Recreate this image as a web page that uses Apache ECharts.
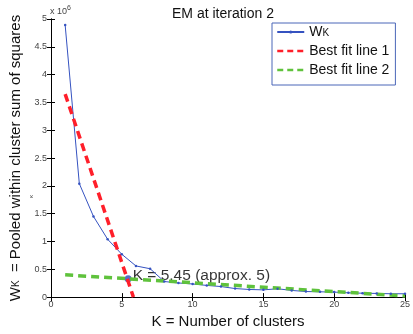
<!DOCTYPE html>
<html>
<head>
<meta charset="utf-8">
<script src="https://cdn.jsdelivr.net/npm/echarts@6/dist/echarts.min.js"></script>
<style>
  html, body { margin: 0; padding: 0; background: #fff; }
  #chart { width: 413px; height: 334px; }
</style>
</head>
<body>
<div id="chart"></div>
<script>
// number of clusters
const kValues = [1, 2, 3, 4, 5, 6, 7, 8, 9, 10, 11, 12, 13, 14, 15, 16, 17, 18, 19, 20, 21, 22, 23, 24, 25]
// Wk in units of 1e6
const wkValues = [4.89, 2.04, 1.45, 1.04, 0.77, 0.56, 0.51, 0.28, 0.254, 0.236, 0.21, 0.19, 0.154, 0.137, 0.13,
  0.15, 0.12, 0.10, 0.095, 0.09, 0.077, 0.07, 0.066, 0.06, 0.06]
// end points of the two fitted lines
const fit1 = [[1, 3.65], [5.82, 0]]
const fit2 = [[1, 0.40], [25, 0.02]]
// elbow estimate
const elbow = [5.45, 0.33]
const elbowText = 'K = 5.45 (approx. 5)'
const xTicks = {min: 0, max: 25, interval: 5}
const yTicks = {min: 0, max: 5, interval: 0.5}

const chart = echarts.init(document.getElementById('chart'))

const wkData = kValues.map((k, i) => [k, wkValues[i]])

const option = {
  animation: false,
  textStyle: {fontFamily: 'Liberation Sans, Arial, sans-serif'},
  title: {
    text: 'EM at iteration 2',
    left: 167,
    top: 2,
    textStyle: {fontSize: 14, fontWeight: 'normal', color: '#111'}
  },
  grid: {left: 51, right: 7, top: 19, bottom: 33},
  legend: {
    orient: 'vertical',
    left: 272,
    top: 23,
    padding: [2, 6, 8, 4],
    itemGap: 5,
    itemWidth: 27,
    itemHeight: 4,
    borderColor: '#4a66b8',
    borderWidth: 1,
    backgroundColor: '#fff',
    data: [
      {name: 'Wk'},
      {name: 'Best fit line 1', itemStyle: {opacity: 0}, lineStyle: {width: 2.5, type: [6, 4]}},
      {name: 'Best fit line 2', itemStyle: {opacity: 0}, lineStyle: {width: 2.5, type: [6, 4]}}
    ],
    formatter: function (name) {
      if (name === 'Wk') return '{w|W}{k|K}'
      return name
    },
    textStyle: {
      fontSize: 14,
      color: '#111',
      rich: {
        w: {fontSize: 14, color: '#111'},
        k: {fontSize: 10, color: '#111', padding: [3, 0, 0, 0]}
      }
    }
  },
  xAxis: [{
    type: 'value',
    min: xTicks.min, max: xTicks.max, interval: xTicks.interval,
    name: 'K = Number of clusters',
    nameLocation: 'middle',
    nameGap: 12,
    nameTextStyle: {fontSize: 15, color: '#111'},
    axisLine: {lineStyle: {color: '#000', width: 1}},
    axisTick: {inside: true, length: 4, lineStyle: {color: '#000'}},
    axisLabel: {fontSize: 9, color: '#444', margin: 3},
    splitLine: {show: false}
  }, {
    type: 'value',
    position: 'top',
    min: xTicks.min, max: xTicks.max, interval: xTicks.interval,
    axisLine: {show: true, lineStyle: {color: '#000', width: 1}},
    axisTick: {inside: true, length: 4, lineStyle: {color: '#000'}},
    axisLabel: {show: false},
    splitLine: {show: false}
  }],
  yAxis: [{
    type: 'value',
    min: yTicks.min, max: yTicks.max, interval: yTicks.interval,
    name: 'W{k|K}  = Pooled within cluster sum of squares',
    nameLocation: 'middle',
    nameGap: 23,
    nameTextStyle: {fontSize: 15, color: '#111', rich: {k: {fontSize: 10, color: '#111'}}},
    axisLine: {lineStyle: {color: '#000', width: 1}},
    axisTick: {inside: true, length: 4, lineStyle: {color: '#000'}},
    axisLabel: {fontSize: 9, color: '#444', margin: 4},
    splitLine: {show: false}
  }, {
    type: 'value',
    position: 'right',
    min: yTicks.min, max: yTicks.max, interval: yTicks.interval,
    axisLine: {show: true, lineStyle: {color: '#000', width: 1}},
    axisTick: {inside: true, length: 4, lineStyle: {color: '#000'}},
    axisLabel: {show: false},
    splitLine: {show: false}
  }],
  graphic: [{
    type: 'text',
    left: 50,
    top: 5,
    style: {
      text: 'x 10{s|6}',
      fontSize: 9,
      fill: '#444',
      rich: {s: {fontSize: 7, fill: '#444', padding: [0, 0, 6, 0]}}
    }
  }, {
    type: 'text',
    left: 28,
    top: 195,
    rotation: Math.PI / 2,
    style: {text: 'κ', fontSize: 6, fill: '#444'}
  }],
  series: [{
    name: 'Wk',
    type: 'line',
    data: wkData,
    symbol: 'circle',
    symbolSize: 2.5,
    itemStyle: {color: '#3552c0'},
    lineStyle: {color: '#3552c0', width: 1}
  }, {
    name: 'Best fit line 1',
    type: 'line',
    data: fit1,
    symbol: 'none',
    itemStyle: {color: '#ff1f2a'},
    lineStyle: {color: '#ff1f2a', width: 3.5, type: [8, 5]}
  }, {
    name: 'Best fit line 2',
    type: 'line',
    data: fit2,
    symbol: 'none',
    itemStyle: {color: '#5fc23c'},
    lineStyle: {color: '#5fc23c', width: 3.5, type: [8, 5]}
  }, {
    name: 'elbow',
    type: 'scatter',
    data: [elbow],
    symbolSize: 7,
    itemStyle: {color: '#2a48b8'},
    label: {
      show: true,
      position: 'right',
      distance: 1,
      offset: [0, -3],
      formatter: elbowText,
      fontSize: 15.5,
      color: '#000',
      textBorderWidth: 0
    }
  }]
}

chart.setOption(option)
</script>
</body>
</html>
